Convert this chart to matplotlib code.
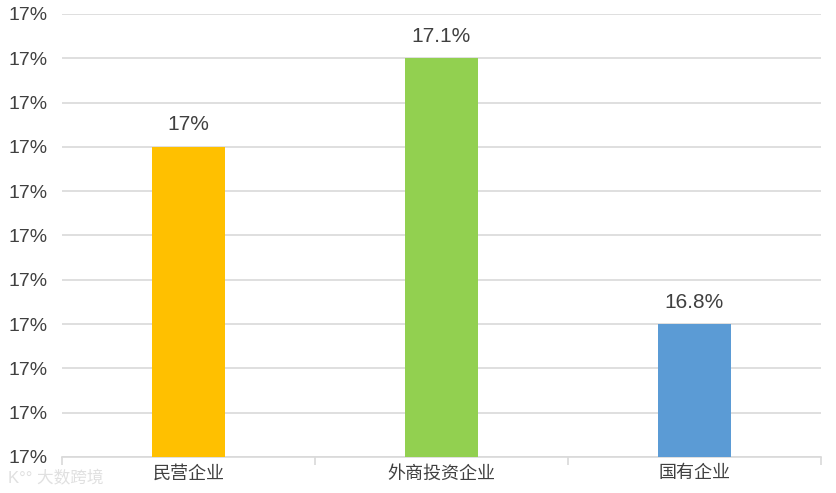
import matplotlib
matplotlib.use("Agg")
import matplotlib.pyplot as plt
from matplotlib.ticker import MultipleLocator, FormatStrFormatter

plt.rcParams['font.family'] = ['Liberation Sans', 'Noto Sans CJK SC', 'DejaVu Sans']

categories = ['民营企业', '外商投资企业', '国有企业']
values = [17.0, 17.1, 16.8]
value_labels = ['17%', '17.1%', '16.8%']
colors = ['#FFC000', '#92D050', '#5B9BD5']

fig = plt.figure(figsize=(8.37, 4.93), dpi=100)
ax = fig.add_axes([62/837, 1 - 457/493, (821-62)/837, (457-14)/493])

x = list(range(len(categories)))
bars = ax.bar(x, values, width=0.29, color=colors, zorder=3)
ax.set_xlim(-0.5, 2.5)
ax.set_ylim(16.65, 17.15)
ax.yaxis.set_major_locator(MultipleLocator(0.05))
ax.yaxis.set_major_formatter(FormatStrFormatter('%.0f%%'))
ax.grid(axis='y', color='#D9D9D9', linewidth=1.2, zorder=0)
for s in ['top', 'right', 'left']:
    ax.spines[s].set_visible(False)
ax.spines['bottom'].set_color('#D9D9D9')
ax.spines['bottom'].set_linewidth(1.2)
ax.tick_params(axis='y', length=0, labelsize=14, labelcolor='#404040', pad=10)
ax.set_xticks(x)
ax.set_xticklabels(categories, fontsize=13, color='#404040')
ax.tick_params(axis='x', length=0, pad=6)
ax.set_xticks([-0.5, 0.5, 1.5, 2.5], minor=True)
ax.tick_params(axis='x', which='minor', length=6, color='#D9D9D9', width=1.2, direction='out')

for b, lab in zip(bars, value_labels):
    ax.annotate(lab, (b.get_x() + b.get_width()/2, b.get_height()),
                xytext=(0, 9), textcoords='offset points',
                ha='center', va='bottom', fontsize=15, color='#404040')

fig.text(8/837, 1 - 478/493, 'K°° 大数跨境', fontsize=12, color='#E0E0E0',
         ha='left', va='center')

fig.savefig('out.png', dpi=100)
